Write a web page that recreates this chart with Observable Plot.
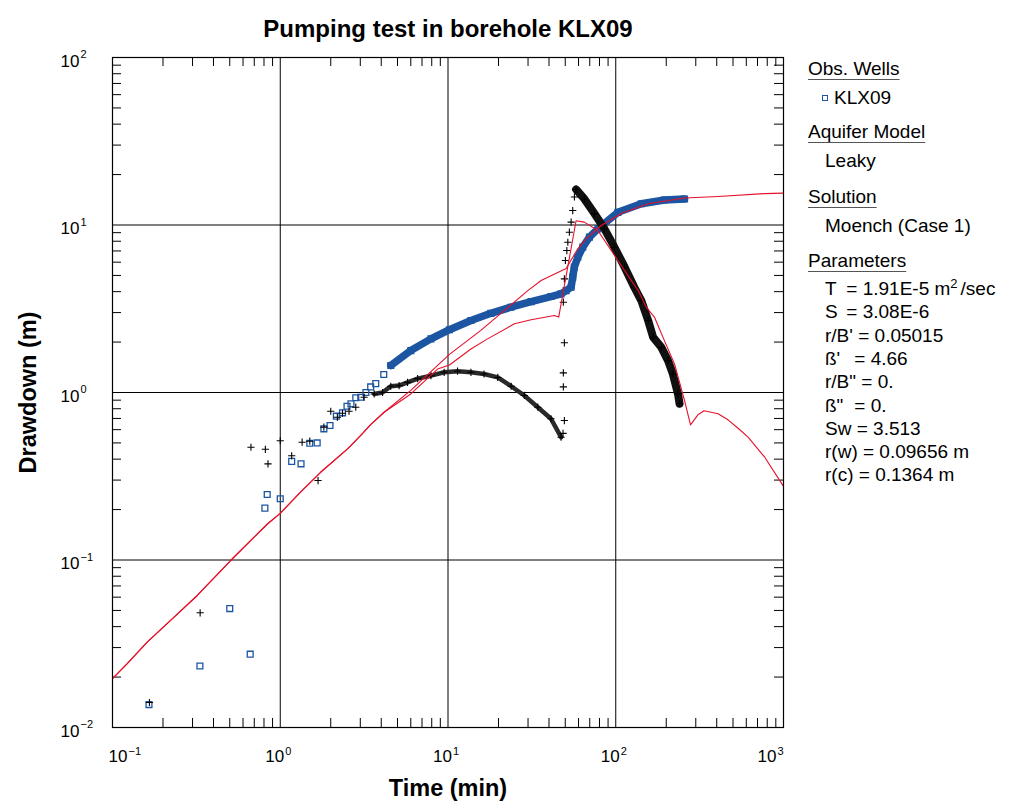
<!DOCTYPE html>
<html><head><meta charset="utf-8">
<script src="https://cdn.jsdelivr.net/npm/d3@7"></script>
<script src="https://cdn.jsdelivr.net/npm/@observablehq/plot@0.6"></script>
<style>
body{margin:0;background:#fff;font-family:"Liberation Sans",Arial,Helvetica,sans-serif;}
#wrap{position:relative;width:1017px;height:812px;overflow:hidden;}
#legend{position:absolute;left:0;top:0;width:1017px;height:812px;pointer-events:none;font-size:19px;color:#000;}
#legend .row{position:absolute;line-height:20px;white-space:nowrap;transform:translateY(-10px);}
#legend .hd{text-decoration:underline;text-decoration-color:#555;text-underline-offset:4px;}
#legend .nm{display:inline-block;min-width:24px;}
#legend .nm.s{min-width:16px;}
#legend sup{font-size:13px;vertical-align:7px;line-height:0;margin-right:3px;}
#legend .mk{display:inline-block;width:4px;height:4px;border:1.3px solid #1c56a2;margin-right:6px;vertical-align:3px;}
</style></head>
<body><div id="wrap"></div>
<script>
// ---------- data ----------
const xDecades = [0.1, 1, 10, 100, 1000];
const xExps = ["\u22121", "0", "1", "2", "3"];
const yDecades = [0.01, 0.1, 1, 10, 100];
const yExps = ["\u22122", "\u22121", "0", "1", "2"];

// KLX09 observed drawdown (blue squares)
const obsT = [0.165,0.332,0.50,0.662,0.81,0.836,1.0,1.17,1.33,1.50,1.66,1.82,1.98,2.16,2.35,2.50,2.64,2.82,
              3.02,3.24,3.46,3.71,4.14,4.56,6.0,7.91,10.2,13.7,18.0,23.7,31.3,41.1,47.2,50.6,54.2,55.4,56.6,59.4,63.6,69.7,78.2,103,142,195,257];
const obsS = [0.0137,0.0233,0.0513,0.0274,0.204,0.246,0.232,0.388,0.375,0.498,0.50,0.607,0.635,0.722,0.756,0.828,0.856,0.93,
              0.937,1.0,1.08,1.13,1.28,1.45,1.78,2.09,2.37,2.69,2.97,3.23,3.49,3.74,3.88,4.06,4.25,4.88,5.6,6.42,7.37,8.46,9.49,11.9,13.4,14.1,14.3];
const obsDenseFrom = 4.5;

// derivative (black crosses)
const derivEarlyT = [0.166,0.333,0.669,0.815,0.845,1.0,1.17,1.35,1.50,1.68,1.82,2.0,2.19,2.35,2.57,2.82,3.16];
const derivEarlyS = [0.0141,0.0484,0.471,0.458,0.375,0.515,0.419,0.505,0.512,0.298,0.621,0.773,0.712,0.752,0.773,0.817,0.937];
const derivMidT = [3.63,4.07,4.56,5.11,5.74,6.59,7.91,9.49,11.4,13.7,16.4,19.8,23.8,28.5,34.3,41.1,47.2];
const derivMidS = [0.98,1.0,1.09,1.10,1.15,1.21,1.26,1.32,1.34,1.32,1.29,1.23,1.09,0.96,0.817,0.697,0.541];
const derivJumpT = [48.5,49.4,48.7,48.7,49.4,48.7,49.4,50.1,51.1,51.8,52.9,54.2,55.4,56.7];
const derivJumpS = [0.57,0.68,1.08,1.31,1.98,3.46,4.77,6.14,7.04,7.89,9.06,10.4,12.2,14.7];
const derivLateT = [58.0,65.0,74.6,85.6,98.2,113,129,142,156,167,187,205,219,235,240];
const derivLateS = [16.3,14.3,11.7,9.49,7.37,5.6,4.25,3.54,2.69,2.14,1.86,1.55,1.29,0.98,0.857];

// Moench model curves (red)
const modelDrawT = [0.1,0.122,0.161,0.232,0.32,0.506,0.838,1.0,1.32,1.74,2.52,3.02,3.47,4.16,6.0,10.2,15.7,21.7,29.9,35.9,50.6,59.4,68.1,81.8,108,156,257,407,773,1000];
const modelDrawS = [0.0196,0.024,0.0323,0.0455,0.0614,0.0993,0.164,0.19,0.254,0.334,0.461,0.554,0.646,0.762,1.03,1.69,2.35,3.09,4.06,4.66,5.5,7.21,8.46,9.93,11.7,13.4,14.5,14.8,15.4,15.5];
const modelDerivT = [0.1,0.122,0.161,0.232,0.32,0.506,0.838,1.0,1.32,1.74,2.52,3.02,3.47,4.16,6.0,8.67,10.2,13.7,17.2,24.9,31.3,43.1,45.7,58.0,65.0,78.2,103,136,152,170,195,224,257,279,309,336,407,467,536,615,773,1000];
const modelDerivS = [0.0196,0.024,0.0323,0.0455,0.0614,0.0993,0.164,0.19,0.254,0.334,0.461,0.554,0.646,0.762,0.98,1.38,1.46,1.82,2.09,2.57,2.72,2.88,2.82,10.6,10.4,9.27,6.14,4.06,3.23,2.82,2.04,1.48,0.896,0.641,0.736,0.778,0.746,0.687,0.612,0.541,0.411,0.275];

// legend texts
const legendTitle = "Pumping test in borehole KLX09";
const obsWells = ["KLX09"];
const aquiferModel = "Leaky";
const solution = "Moench (Case 1)";
const paramNames = ["T", "S", "r/B'", "\u00DF'", "r/B\"", "\u00DF\"", "Sw", "r(w)", "r(c)"];
const paramValues = ["= 1.91E-5 m<sup>2</sup>/sec", "= 3.08E-6", "= 0.05015", "= 4.66", "= 0.", "= 0.", "= 3.513", "= 0.09656 m", "= 0.1364 m"];

// ---------- build ----------
const zip = (T, S) => T.map((t, i) => ({t, s: S[i]}));
const obs = zip(obsT, obsS);
const obsDense = obs.filter(d => d.t >= obsDenseFrom);
const dEarly = zip(derivEarlyT, derivEarlyS);
const dMid = zip(derivMidT, derivMidS);
const dJump = zip(derivJumpT, derivJumpS);
const dLate = zip(derivLateT, derivLateS);
const mDraw = zip(modelDrawT, modelDrawS);
const mDeriv = zip(modelDerivT, modelDerivS);

const W = 1017, H = 812, mL = 112, mR = 234, mT = 57, mB = 85;
const fw = W - mL - mR, fh = H - mT - mB, TICK = 9;
const BLUE = "#1c56a2", RED = "#e6102a", FONT = "Liberation Sans, Arial, Helvetica, sans-serif";

const xMinor = xDecades.slice(0, -1).flatMap(d => d3.range(2, 10).map(k => k * d));
const yMinor = yDecades.slice(0, -1).flatMap(d => d3.range(2, 10).map(k => k * d));
const xGrid = xDecades.slice(1, -1), yGrid = yDecades.slice(1, -1);

const crossSym = {draw(ctx, size) { const r = Math.sqrt(size / Math.PI); ctx.moveTo(-r, 0); ctx.lineTo(r, 0); ctx.moveTo(0, -r); ctx.lineTo(0, r); }};

const xLab = xDecades.map((v, i) => ({v, e: xExps[i]}));
const yLab = yDecades.map((v, i) => ({v, e: yExps[i]}));

function xLabelMarks(items, shift) {
  return [
    Plot.text(items, {x: "v", frameAnchor: "bottom", dy: 34, dx: shift + 4, text: () => "10", textAnchor: "end", fontSize: 17, fontFamily: FONT, fill: "#000"}),
    Plot.text(items, {x: "v", frameAnchor: "bottom", dy: 27, dx: shift + 5, text: "e", textAnchor: "start", fontSize: 11, fontFamily: FONT, fill: "#000"})
  ];
}

const chart = Plot.plot({
  width: W, height: H,
  marginLeft: mL, marginRight: mR, marginTop: mT, marginBottom: mB,
  style: {fontFamily: FONT, background: "#fff", overflow: "visible"},
  x: {type: "log", domain: [0.1, 1000], axis: null},
  y: {type: "log", domain: [0.01, 100], axis: null},
  marks: [
    // grid & ticks
    Plot.ruleX(xGrid, {stroke: "#000", strokeWidth: 1}),
    Plot.ruleY(yGrid, {stroke: "#000", strokeWidth: 1}),
    Plot.ruleX(xMinor, {insetTop: fh - TICK, stroke: "#000"}),
    Plot.ruleX(xMinor, {insetBottom: fh - TICK, stroke: "#000"}),
    Plot.ruleY(yMinor, {insetRight: fw - TICK, stroke: "#000"}),
    Plot.ruleY(yMinor, {insetLeft: fw - TICK, stroke: "#000"}),
    // observed drawdown
    Plot.line(obsDense, {x: "t", y: "s", stroke: BLUE, strokeWidth: 7.5}),
    Plot.dot(obs, {x: "t", y: "s", symbol: "square", r: 3.3, stroke: BLUE, strokeWidth: 1.3, fill: "none"}),
    // derivative
    Plot.line(dMid, {x: "t", y: "s", stroke: "#2a2a2a", strokeWidth: 4.5}),
    Plot.line(dLate, {x: "t", y: "s", stroke: "#111", strokeWidth: 8}),
    Plot.dot([...dEarly, ...dMid, ...dJump, ...dLate], {x: "t", y: "s", symbol: crossSym, r: 3.6, stroke: "#000", strokeWidth: 1.1, fill: "none"}),
    // model
    Plot.line(mDraw, {x: "t", y: "s", stroke: RED, strokeWidth: 1.1}),
    Plot.line(mDeriv, {x: "t", y: "s", stroke: RED, strokeWidth: 1.1}),
    Plot.frame({stroke: "#000", strokeWidth: 1.2}),
    // tick labels
    ...xLabelMarks(xLab.slice(0, 1), 11),
    ...xLabelMarks(xLab.slice(1, -1), 0),
    ...xLabelMarks(xLab.slice(-1), -11),
    Plot.text(yLab, {y: "v", frameAnchor: "left", dx: -52, dy: 4, text: () => "10", textAnchor: "start", fontSize: 17, fontFamily: FONT, fill: "#000"}),
    Plot.text(yLab, {y: "v", frameAnchor: "left", dx: -32, dy: -3, text: "e", textAnchor: "start", fontSize: 11, fontFamily: FONT, fill: "#000"}),
    // titles
    Plot.text([legendTitle], {frameAnchor: "top", dy: -38, text: d => d, textAnchor: "middle", fontWeight: "bold", fontSize: 24, fontFamily: FONT, fill: "#000"}),
    Plot.text(["Drawdown (m)"], {frameAnchor: "left", dx: -84, rotate: -90, text: d => d, textAnchor: "middle", fontWeight: "bold", fontSize: 23.5, fontFamily: FONT, fill: "#000"}),
    Plot.text(["Time (min)"], {frameAnchor: "bottom", dy: 68, text: d => d, textAnchor: "middle", fontWeight: "bold", fontSize: 23.5, fontFamily: FONT, fill: "#000"})
  ]
});

const wrap = document.getElementById("wrap");
wrap.appendChild(chart);

// legend (right side)
const lg = document.createElement("div");
lg.id = "legend";
const rows = [];
rows.push({y: 69, x: 808, html: "Obs. Wells", cls: "hd"});
obsWells.forEach((w, i) => rows.push({y: 98 + i * 23, x: 822, html: '<span class="mk"></span>' + w}));
rows.push({y: 132, x: 808, html: "Aquifer Model", cls: "hd"});
rows.push({y: 161, x: 825, html: aquiferModel});
rows.push({y: 197, x: 808, html: "Solution", cls: "hd"});
rows.push({y: 226, x: 825, html: solution});
rows.push({y: 261, x: 808, html: "Parameters", cls: "hd"});
paramNames.forEach((n, i) => rows.push({y: 289 + i * 23.3, x: 825,
  html: '<span class="nm' + (i < 2 ? ' s' : '') + '">' + n + '</span> ' + paramValues[i]}));
rows.forEach(r => {
  const d = document.createElement("div");
  d.className = "row";
  d.style.left = r.x + "px";
  d.style.top = r.y + "px";
  d.innerHTML = r.cls ? '<span class="' + r.cls + '">' + r.html + '</span>' : r.html;
  lg.appendChild(d);
});
wrap.appendChild(lg);
</script>
</body></html>
